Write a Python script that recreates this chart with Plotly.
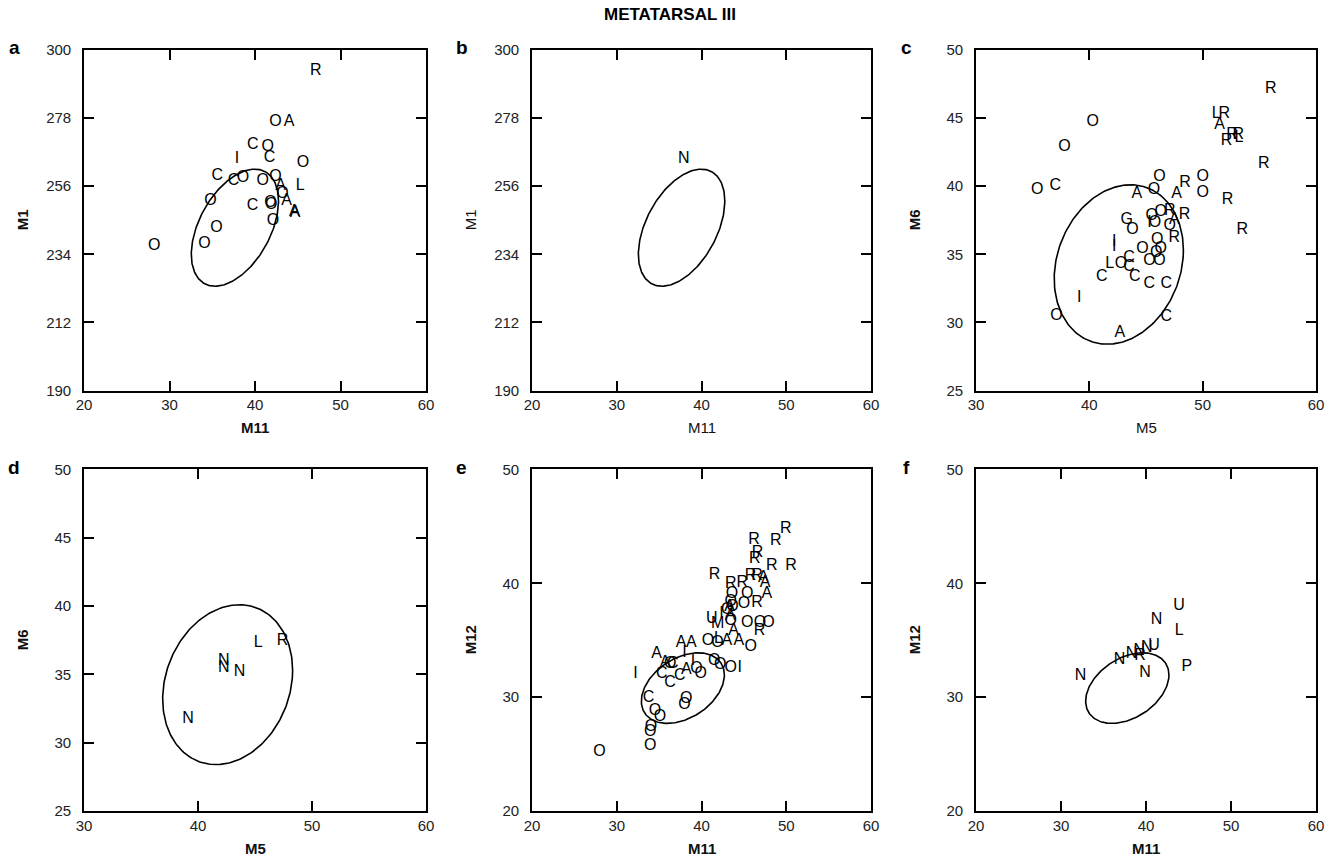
import numpy as np
import plotly.graph_objects as go

W, H = 1340, 864

# ---------------- data ----------------
# Panel a : M11 (x) vs M1 (y)
a_lbl = ["R", "O", "A", "C", "O", "C", "I", "O", "C", "C", "O", "O", "O", "L", "A",
         "O", "A", "O", "C", "O", "O", "A", "A", "O", "O", "O", "O"]
a_x = [47.1, 42.4, 44.0, 39.75, 41.5, 41.7, 37.9, 45.6, 35.6, 37.5, 38.6, 40.9, 42.4, 45.3, 43.0,
       43.2, 43.7, 34.8, 39.7, 41.8, 41.9, 44.6, 44.7, 42.1, 35.5, 34.1, 28.2]
a_y = [293.3, 276.6, 276.6, 269.4, 268.5, 265.0, 264.9, 263.4, 259.3, 257.6, 258.8, 257.7, 259.1, 256.1, 256.1,
       253.5, 251.3, 251.2, 249.7, 250.5, 249.8, 247.6, 247.2, 244.8, 242.4, 237.2, 236.7]

# Panel b : M11 vs M1
b_lbl = ["N"]
b_x = [37.9]
b_y = [264.7]

# Panel c : M5 (x) vs M6 (y)
c_lbl = ["O", "O", "O", "O", "O", "O", "O", "G", "O", "O", "O", "O", "O", "O", "O", "O", "O", "O", "O", "O", "O",
         "C", "C", "C", "C", "C", "C", "C", "C",
         "A", "A", "A", "A", "A",
         "R", "R", "R", "R", "R", "R", "R", "R", "R", "R", "R", "R",
         "L", "L", "L",
         "I", "I", "I", "I"]
c_x = [35.4, 37.8, 40.3, 46.2, 45.7, 50.0, 50.0, 43.3, 43.8, 45.5, 46.3, 45.8, 47.1, 46.0, 46.3, 44.7, 45.3, 46.2, 45.9, 42.8, 37.1,
       37.0, 43.5, 43.5, 44.0, 41.1, 45.3, 46.8, 46.8,
       44.2, 47.7, 47.5, 51.5, 42.7,
       56.0, 51.9, 52.1, 52.6, 53.15, 55.4, 52.2, 53.5, 48.45, 48.4, 47.1, 47.5,
       51.2, 53.2, 41.8,
       42.2, 42.2, 39.1, 45.3]
c_y = [39.7, 42.9, 44.7, 40.7, 39.7, 40.7, 39.5, 37.5, 36.8, 37.8, 38.1, 37.3, 37.1, 36.05, 35.4, 35.4, 34.5, 34.5, 35.1, 34.3, 30.5,
       40.0, 34.75, 34.1, 33.3, 33.3, 32.8, 32.8, 30.4,
       39.4, 39.4, 37.5, 44.5, 29.2,
       47.1, 45.3, 43.3, 43.75, 43.75, 41.6, 39.0, 36.8, 40.2, 37.9, 38.2, 36.2,
       45.3, 43.5, 34.26,
       35.9, 35.5, 31.8, 37.3]

# Panel d : M5 vs M6
d_lbl = ["L", "R", "N", "N", "N", "N"]
d_x = [45.27, 47.41, 42.27, 42.27, 43.65, 39.12]
d_y = [37.28, 37.45, 35.98, 35.49, 35.17, 31.74]

# Panel e : M11 (x) vs M12 (y)
e_lbl = (["R"] * 14 + ["A"] * 13 + ["O"] * 27 + ["L", "U", "M"] + ["I"] * 5 + ["C"] * 5)
e_x = [49.95, 48.75, 46.2, 46.6, 46.3, 48.3, 50.55, 41.55, 45.8, 46.55, 43.45, 44.8, 46.55, 46.85,
       47.3, 47.5, 47.7, 43.3, 43.4, 43.8, 43.0, 44.4, 37.6, 38.8, 34.7, 35.7, 38.2,
       43.6, 45.4, 43.45, 43.65, 45.0, 43.05, 45.4, 46.9, 47.9, 43.45, 45.8, 40.75, 41.9, 41.5,
       42.2, 43.45, 36.3, 39.4, 39.9, 38.2, 38.0, 34.5, 35.1, 34.05, 33.95, 33.95, 27.95, 42.0,
       41.2, 41.9, 42.35,
       38.0, 39.0, 44.5, 32.2, 36.6,
       35.3, 36.3, 37.45, 33.75, 41.3]
e_y = [44.8, 43.7, 43.8, 42.65, 42.15, 41.5, 41.55, 40.7, 40.6, 40.6, 39.9, 40.05, 38.3, 35.8,
       40.5, 40.0, 39.1, 37.9, 37.15, 35.8, 34.9, 34.9, 34.8, 34.8, 33.8, 33.0, 32.35,
       39.1, 39.1, 38.4, 37.95, 38.2, 37.7, 36.5, 36.55, 36.55, 36.7, 34.4, 34.9, 34.8, 33.2,
       32.8, 32.55, 32.9, 32.45, 32.0, 29.8, 29.35, 28.75, 28.3, 27.4, 26.95, 25.75, 25.2, 35.1,
       36.85, 36.45, 37.3,
       33.9, 33.2, 32.6, 32.0, 32.9,
       32.0, 31.25, 31.85, 29.9, 34.5]

# Panel f : M11 vs M12
f_lbl = ["N", "N", "N", "N", "N", "N", "N", "U", "U", "R", "L", "P"]
f_x = [32.3, 36.9, 38.3, 39.2, 40.1, 39.9, 41.25, 40.95, 43.9, 39.3, 43.9, 44.8]
f_y = [31.9, 33.3, 33.75, 34.05, 34.35, 32.15, 36.8, 34.5, 38.0, 33.6, 35.8, 32.65]

# Reference ellipses: centre x, centre y, half-width, half-height, correlation
ell_ab = [37.65, 242.6, 5.1, 18.9, 0.455]
ell_cd = [42.6, 34.25, 5.7, 5.85, 0.18]
ell_ef = [37.8, 30.8, 4.9, 3.1, 0.37]

x_ticks_m11 = [20, 30, 40, 50, 60]
x_ticks_m5 = [30, 40, 50, 60]
y_ticks_m1 = [190, 212, 234, 256, 278, 300]
y_ticks_m6 = [25, 30, 35, 40, 45, 50]
y_ticks_m12 = [20, 30, 40, 50]

# ---------------- figure ----------------
# the page is shown with an 8px body margin, so the plot occupies 1324x848 at offset (8, 8)
OFF, EW, EH = 8, W - 16, H - 16
px = lambda v: (v - OFF) / EW
py = lambda v: 1 - (v - OFF) / EH
cols = [(84, 426), (532, 871), (976, 1316)]
rows = [(49, 390), (469, 811)]

panels = [
    dict(lbl=a_lbl, x=a_x, y=a_y, ell=ell_ab, xr=[20, 60], xt=x_ticks_m11, yr=[190, 300], yt=y_ticks_m1,
         xtitle="M11", ytitle="M1", tag="a", col=0, row=0, xb=True, yb=True),
    dict(lbl=b_lbl, x=b_x, y=b_y, ell=ell_ab, xr=[20, 60], xt=x_ticks_m11, yr=[190, 300], yt=y_ticks_m1,
         xtitle="M11", ytitle="M1", tag="b", col=1, row=0, xb=False, yb=False),
    dict(lbl=c_lbl, x=c_x, y=c_y, ell=ell_cd, xr=[30, 60], xt=x_ticks_m5, yr=[25, 50], yt=y_ticks_m6,
         xtitle="M5", ytitle="M6", tag="c", col=2, row=0, xb=False, yb=True),
    dict(lbl=d_lbl, x=d_x, y=d_y, ell=ell_cd, xr=[30, 60], xt=x_ticks_m5, yr=[25, 50], yt=y_ticks_m6,
         xtitle="M5", ytitle="M6", tag="d", col=0, row=1, xb=True, yb=True),
    dict(lbl=e_lbl, x=e_x, y=e_y, ell=ell_ef, xr=[20, 60], xt=x_ticks_m11, yr=[20, 50], yt=y_ticks_m12,
         xtitle="M11", ytitle="M12", tag="e", col=1, row=1, xb=True, yb=True),
    dict(lbl=f_lbl, x=f_x, y=f_y, ell=ell_ef, xr=[20, 60], xt=x_ticks_m11, yr=[20, 50], yt=y_ticks_m12,
         xtitle="M11", ytitle="M12", tag="f", col=2, row=1, xb=True, yb=True),
]

fig = go.Figure()
annotations = []
t = np.linspace(0, 2 * np.pi, 240)
FONT = "Liberation Sans, Arial, sans-serif"
bold = lambda s, b: "<b>" + s + "</b>" if b else s

for i, p in enumerate(panels):
    k = "" if i == 0 else str(i + 1)
    xa, ya = "x" + k, "y" + k
    cx, cy, A, B, r = p["ell"]
    dlt = np.arccos(r)
    ex = cx + A * np.cos(t)
    ey = cy + B * np.cos(t - dlt)
    fig.add_trace(go.Scatter(x=ex, y=ey, mode="lines", line=dict(color="black", width=1.6),
                             xaxis=xa, yaxis=ya, showlegend=False, hoverinfo="skip"))
    fig.add_trace(go.Scatter(x=p["x"], y=p["y"], text=p["lbl"], mode="text",
                             textfont=dict(family=FONT, size=16, color="black"),
                             textposition="middle center", xaxis=xa, yaxis=ya, showlegend=False))
    c0, c1 = cols[p["col"]]
    r0, r1 = rows[p["row"]]
    axcommon = dict(showline=True, linecolor="black", linewidth=1.6, mirror="allticks",
                    ticks="inside", ticklen=10, tickwidth=1.6, tickcolor="black",
                    showgrid=False, zeroline=False,
                    tickfont=dict(family=FONT, size=15, color="#222"))
    fig.layout["xaxis" + k] = dict(domain=[px(c0), px(c1)], range=p["xr"], tickvals=p["xt"],
                                   anchor=ya, **axcommon)
    fig.layout["yaxis" + k] = dict(domain=[py(r1), py(r0)], range=p["yr"], tickvals=p["yt"],
                                   anchor=xa, ticklabelstandoff=8, **axcommon)
    # axis titles
    annotations.append(dict(text=bold(p["xtitle"], p["xb"]), x=px((c0 + c1) / 2), y=py(r1 + 37),
                            xref="paper", yref="paper", showarrow=False, xanchor="center", yanchor="middle",
                            font=dict(family=FONT, size=15, color="#111")))
    annotations.append(dict(text=bold(p["ytitle"], p["yb"]), x=px(c0 - 62), y=py((r0 + r1) / 2),
                            xref="paper", yref="paper", showarrow=False, xanchor="center", yanchor="middle",
                            textangle=-90, font=dict(family=FONT, size=15, color="#111")))
    annotations.append(dict(text="<b>" + p["tag"] + "</b>", x=px(c0 - 70), y=py(r0 - 2), xref="paper",
                            yref="paper", showarrow=False, xanchor="center", yanchor="middle",
                            font=dict(family=FONT, size=19, color="black")))

annotations.append(dict(text="<b>METATARSAL III</b>", x=px(670), y=py(14), xref="paper", yref="paper",
                        showarrow=False, xanchor="center", yanchor="middle",
                        font=dict(family=FONT, size=17, color="black")))

fig.update_layout(width=W, height=H, margin=dict(l=0, r=0, t=0, b=0),
                  paper_bgcolor="white", plot_bgcolor="white", annotations=annotations,
                  showlegend=False)
fig.write_html("out.html")
